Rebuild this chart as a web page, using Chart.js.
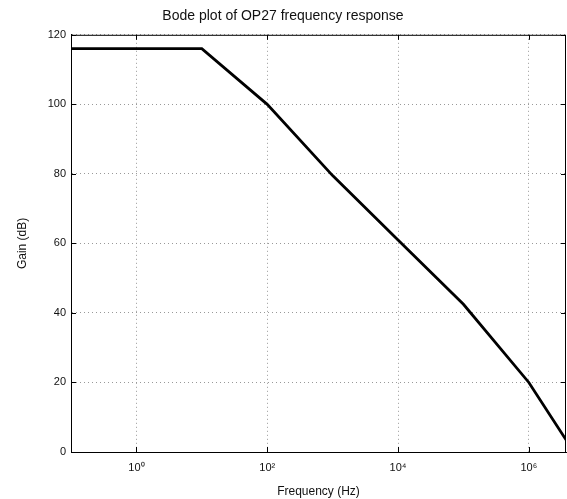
<!DOCTYPE html>
<html>
<head>
<meta charset="utf-8">
<script src="https://cdn.jsdelivr.net/npm/chart.js@4.4.1/dist/chart.umd.min.js"></script>
<style>
  html, body { margin: 0; padding: 0; background: #fff; }
  canvas { display: block; }
</style>
</head>
<body>
<canvas id="bode" width="567" height="499"></canvas>
<script>
// Datos (frecuencia en Hz, ganancia en dB)
const frequencies = [0.1, 10, 100, 1000, 10000, 100000, 1000000, 3700000];
const gains = [116, 116, 100, 79.5, 61, 42.5, 20, 3.5];

// Marcas de los ejes
const xTicks = [1, 100, 10000, 1000000];
const xTickLabels = ['10\u2070', '10\u00b2', '10\u2074', '10\u2076'];
const yTicks = [0, 20, 40, 60, 80, 100, 120];

const font = "'Liberation Sans', Arial, sans-serif";

// Caja alrededor del área del gráfico y marcas hacia dentro (estilo MATLAB)
const boxPlugin = {
  id: 'box',
  afterDraw(chart) {
    const a = chart.chartArea, c = chart.ctx;
    const sx = chart.scales.x, sy = chart.scales.y;
    c.save();
    c.strokeStyle = '#000';
    c.lineWidth = 1;
    c.strokeRect(a.left + 0.5, a.top + 0.5, a.right - a.left - 1, a.bottom - a.top);
    c.beginPath();
    xTicks.forEach(v => {
      const px = Math.round(sx.getPixelForValue(v)) + 0.5;
      c.moveTo(px, a.bottom); c.lineTo(px, a.bottom - 5);
      c.moveTo(px, a.top); c.lineTo(px, a.top + 5);
    });
    yTicks.forEach(v => {
      const py = Math.round(sy.getPixelForValue(v)) + 0.5;
      c.moveTo(a.left, py); c.lineTo(a.left + 5, py);
      c.moveTo(a.right, py); c.lineTo(a.right - 5, py);
    });
    c.stroke();
    c.restore();
  }
};

new Chart(document.getElementById('bode'), {
  type: 'line',
  data: {
    datasets: [{
      data: frequencies.map((f, i) => ({ x: f, y: gains[i] })),
      borderColor: '#000',
      borderWidth: 2.8,
      pointRadius: 0,
      tension: 0,
      fill: false
    }]
  },
  options: {
    responsive: false,
    animation: false,
    layout: { padding: { left: 0, right: 1, top: 0, bottom: 0 } },
    plugins: {
      legend: { display: false },
      tooltip: { enabled: false },
      title: {
        display: true,
        text: 'Bode plot of OP27 frequency response',
        color: '#111',
        font: { family: font, size: 14, weight: 'normal' },
        padding: { top: 8, bottom: 10 }
      }
    },
    scales: {
      x: {
        type: 'logarithmic',
        min: 0.1,
        max: 3700000,
        afterBuildTicks: s => { s.ticks = xTicks.map(v => ({ value: v })); },
        afterFit: s => { s.height = 47; },
        ticks: {
          color: '#111',
          font: { family: font, size: 11 },
          maxRotation: 0,
          autoSkip: false,
          padding: 9,
          callback: v => xTickLabels[xTicks.indexOf(v)]
        },
        grid: { color: '#999', tickLength: 0, lineWidth: 1 },
        border: { display: true, color: '#000', dash: [1, 3] },
        title: {
          display: true,
          text: 'Frequency (Hz)',
          color: '#111',
          font: { family: font, size: 12 },
          padding: { top: 0, bottom: 0 }
        }
      },
      y: {
        min: 0,
        max: 120,
        afterBuildTicks: s => { s.ticks = yTicks.map(v => ({ value: v })); },
        afterFit: s => { s.width = 71; },
        ticks: {
          color: '#111',
          font: { family: font, size: 11 },
          padding: 5
        },
        grid: { color: '#999', tickLength: 0, lineWidth: 1 },
        border: { display: true, color: '#000', dash: [1, 3] },
        title: {
          display: true,
          text: 'Gain (dB)',
          color: '#111',
          font: { family: font, size: 12 },
          padding: { top: 15, bottom: 0 }
        }
      }
    }
  },
  plugins: [boxPlugin]
});
</script>
</body>
</html>
